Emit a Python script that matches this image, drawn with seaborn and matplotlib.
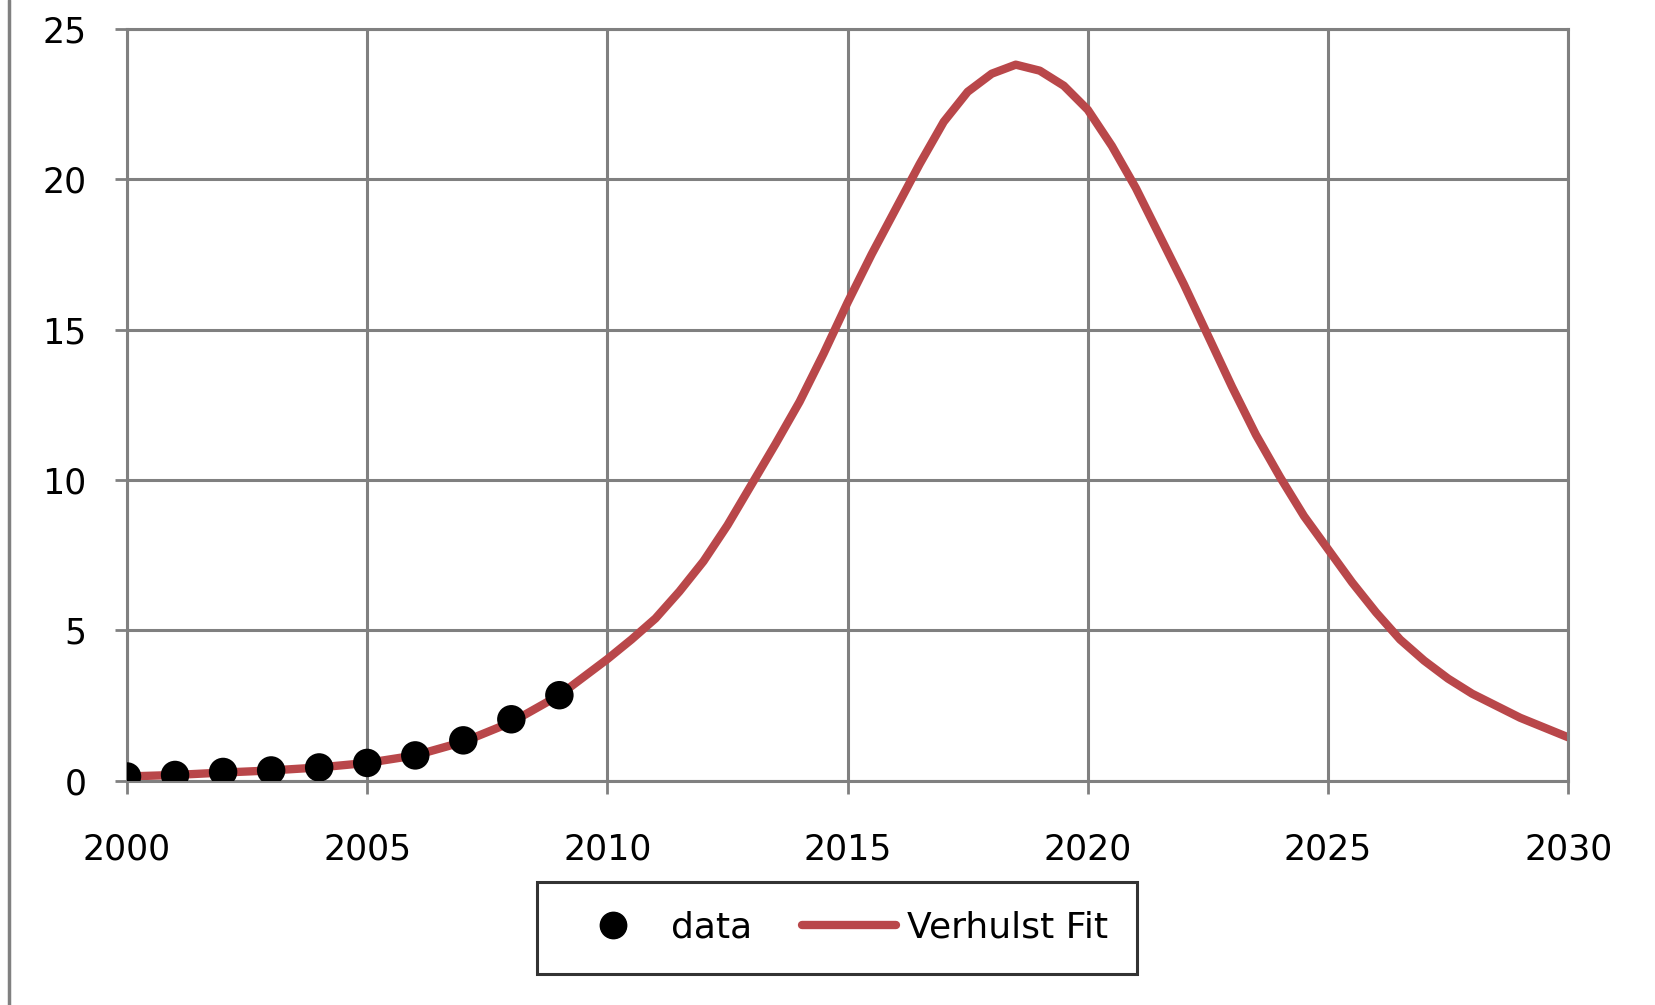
import pandas as pd
import seaborn as sns
import matplotlib.pyplot as plt
from matplotlib.lines import Line2D

# observed data points
data_years = [2000, 2001, 2002, 2003, 2004, 2005, 2006, 2007, 2008, 2009]
data_values = [0.15, 0.2, 0.3, 0.35, 0.45, 0.6, 0.85, 1.35, 2.05, 2.85]

# Verhulst fit
fit_years = [2000, 2001, 2002, 2003, 2004, 2005, 2006, 2007, 2008, 2009,
             2010, 2010.5, 2011, 2011.5, 2012, 2012.5, 2013, 2013.5, 2014, 2014.5,
             2015, 2015.5, 2016, 2016.5, 2017, 2017.5, 2018, 2018.5, 2019, 2019.5,
             2020, 2020.5, 2021, 2021.5, 2022, 2022.5, 2023, 2023.5, 2024, 2024.5,
             2025, 2025.5, 2026, 2026.5, 2027, 2027.5, 2028, 2029, 2030]
fit_values = [0.15, 0.2, 0.28, 0.35, 0.45, 0.6, 0.85, 1.3, 1.95, 2.85,
              4.05, 4.7, 5.4, 6.3, 7.3, 8.5, 9.85, 11.2, 12.6, 14.2,
              15.9, 17.5, 19.0, 20.5, 21.9, 22.9, 23.5, 23.8, 23.6, 23.1,
              22.3, 21.1, 19.7, 18.1, 16.5, 14.8, 13.1, 11.5, 10.1, 8.8,
              7.7, 6.6, 5.6, 4.7, 4.0, 3.4, 2.9, 2.1, 1.45]

x_ticks = [2000, 2005, 2010, 2015, 2020, 2025, 2030]
y_ticks = [0, 5, 10, 15, 20, 25]

df_data = pd.DataFrame({'year': data_years, 'value': data_values})
df_fit = pd.DataFrame({'year': fit_years, 'value': fit_values})

sns.set_style('white')
plt.rcParams['font.family'] = ['DejaVu Sans']
plt.rcParams['text.color'] = 'black'
plt.rcParams['xtick.color'] = 'black'
plt.rcParams['ytick.color'] = 'black'

fig = plt.figure(figsize=(16.56, 10.05), dpi=100)
ax = fig.add_axes([0.0767, 0.2229, 0.8703, 0.7487])

sns.lineplot(x='year', y='value', data=df_fit, ax=ax, color='#B9474A',
             linewidth=6, label='Verhulst Fit', zorder=2)
sns.scatterplot(x='year', y='value', data=df_data, ax=ax, color='black',
                s=420, edgecolor='none', label='data', zorder=3)

ax.set_xlim(2000, 2030)
ax.set_ylim(0, 25)
ax.set_xticks(x_ticks)
ax.set_yticks(y_ticks)
ax.set_xticklabels([str(t) for t in x_ticks])
ax.set_yticklabels([str(t) for t in y_ticks])
ax.set_xlabel('')
ax.set_ylabel('')
ax.grid(True, color='#808080', linewidth=2.2)
ax.set_axisbelow(True)
for sp in ax.spines.values():
    sp.set_color('#808080')
    sp.set_linewidth(2.2)
ax.tick_params(axis='x', direction='out', length=9, width=2, color='#808080',
               labelcolor='black', labelsize=25, pad=28, bottom=True)
ax.tick_params(axis='y', direction='out', length=9, width=2, color='#808080',
               labelcolor='black', labelsize=25, pad=20, left=True)

ax.get_legend().remove()
handles = [Line2D([], [], marker='o', color='black', linestyle='none', markersize=19),
           Line2D([], [], color='#B9474A', linewidth=6)]
leg = fig.legend(handles, ['data', 'Verhulst Fit'], loc='center',
                 bbox_to_anchor=(0.5055, 0.077), ncol=2, fontsize=26,
                 frameon=True, fancybox=False, borderpad=0.8,
                 handlelength=2.6, handletextpad=0.3, columnspacing=1.4,
                 borderaxespad=0)
leg.get_frame().set_edgecolor('black')
leg.get_frame().set_linewidth(2.2)
leg._legend_box.align = 'center'

# grey border line on the left edge of the picture
fig.add_artist(Line2D([0.0052, 0.0052], [0.0, 1.0], color='#808080',
                      linewidth=2.5, transform=fig.transFigure))

plt.savefig('out.png', dpi=100)
